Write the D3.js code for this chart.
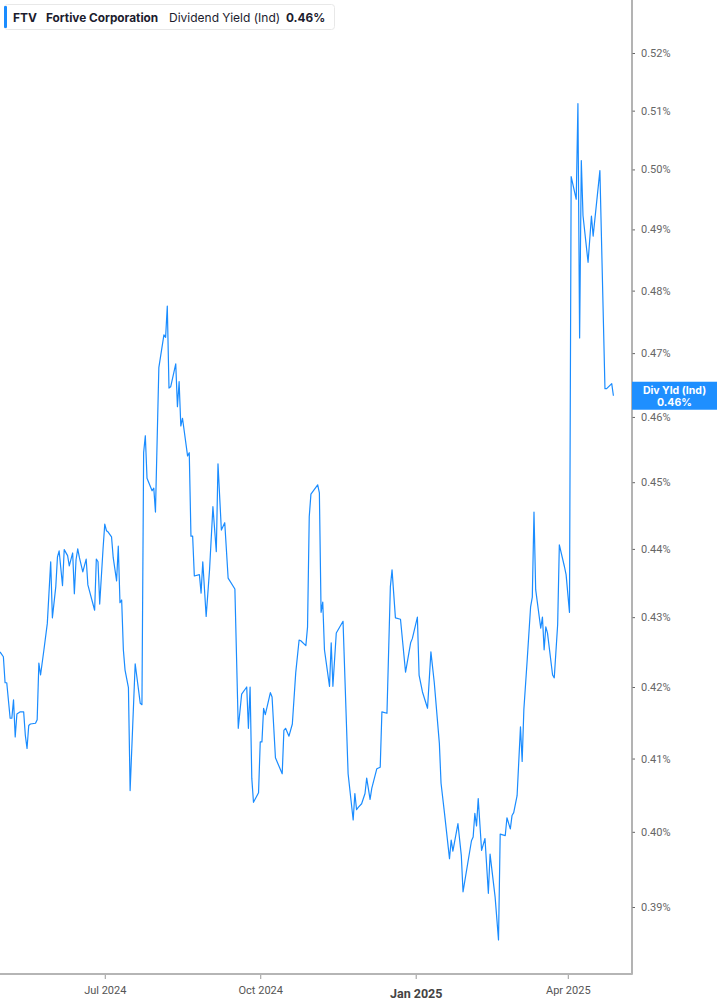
<!DOCTYPE html>
<html>
<head>
<meta charset="utf-8">
<title>FTV Dividend Yield</title>
<style>
  body { margin: 0; background: #fff; }
  svg { display: block; }
  .y-axis text { font-family: Roboto, "Noto Sans", sans-serif; font-size: 11px; fill: #666; }
  .x-axis text { font-family: Roboto, "Noto Sans", sans-serif; font-size: 11px; fill: #555; }
</style>
</head>
<body>
<div id="chart"></div>
<script src="https://cdn.jsdelivr.net/npm/d3@7"></script>
<script>
// dividend yield (ind), percent
const dates = [
  "2024-04-30","2024-05-02","2024-05-03","2024-05-04","2024-05-06","2024-05-07","2024-05-08","2024-05-09",
  "2024-05-10","2024-05-12","2024-05-14","2024-05-15","2024-05-16","2024-05-17","2024-05-18","2024-05-21",
  "2024-05-22","2024-05-23","2024-05-24","2024-05-26","2024-05-28","2024-05-30","2024-05-31","2024-06-02",
  "2024-06-03","2024-06-04","2024-06-06","2024-06-07","2024-06-09","2024-06-10","2024-06-12","2024-06-13",
  "2024-06-14","2024-06-15","2024-06-16","2024-06-18","2024-06-20","2024-06-21","2024-06-25","2024-06-26",
  "2024-06-27","2024-06-28","2024-06-30","2024-07-01","2024-07-02","2024-07-03","2024-07-05","2024-07-06",
  "2024-07-08","2024-07-09","2024-07-10","2024-07-11","2024-07-12","2024-07-13","2024-07-15","2024-07-16",
  "2024-07-19","2024-07-22","2024-07-23","2024-07-24","2024-07-25","2024-07-26","2024-07-29","2024-07-30",
  "2024-07-31","2024-08-02","2024-08-05","2024-08-06","2024-08-07","2024-08-08","2024-08-09","2024-08-12",
  "2024-08-13","2024-08-14","2024-08-15","2024-08-16","2024-08-19","2024-08-20","2024-08-21","2024-08-22",
  "2024-08-23","2024-08-26","2024-08-27","2024-08-28","2024-08-30","2024-09-01","2024-09-03","2024-09-05",
  "2024-09-06","2024-09-08","2024-09-10","2024-09-12","2024-09-16","2024-09-18","2024-09-20","2024-09-23",
  "2024-09-24","2024-09-25","2024-09-26","2024-09-27","2024-09-30","2024-10-01","2024-10-02","2024-10-03",
  "2024-10-04","2024-10-07","2024-10-08","2024-10-10","2024-10-14","2024-10-15","2024-10-16","2024-10-18",
  "2024-10-20","2024-10-22","2024-10-24","2024-10-25","2024-10-28","2024-10-29","2024-10-30","2024-10-31",
  "2024-11-04","2024-11-05","2024-11-06","2024-11-07","2024-11-08","2024-11-11","2024-11-12","2024-11-13",
  "2024-11-15","2024-11-19","2024-11-22","2024-11-25","2024-11-26","2024-11-27","2024-11-28","2024-11-30",
  "2024-12-02","2024-12-03","2024-12-05","2024-12-06","2024-12-09","2024-12-11","2024-12-12","2024-12-15",
  "2024-12-17","2024-12-18","2024-12-20","2024-12-23","2024-12-26","2024-12-29","2024-12-30","2025-01-02",
  "2025-01-03","2025-01-05","2025-01-08","2025-01-10","2025-01-12","2025-01-15","2025-01-16","2025-01-18",
  "2025-01-21","2025-01-22","2025-01-23","2025-01-26","2025-01-28","2025-01-29","2025-02-03","2025-02-04",
  "2025-02-05","2025-02-06","2025-02-07","2025-02-09","2025-02-11","2025-02-13","2025-02-14","2025-02-17",
  "2025-02-19","2025-02-20","2025-02-23","2025-02-24","2025-02-26","2025-02-27","2025-02-28","2025-03-02",
  "2025-03-04","2025-03-05","2025-03-06","2025-03-08","2025-03-10","2025-03-11","2025-03-12","2025-03-13",
  "2025-03-16","2025-03-17","2025-03-18","2025-03-19","2025-03-20","2025-03-23","2025-03-24","2025-03-26",
  "2025-03-27","2025-03-30","2025-03-31","2025-04-02","2025-04-03","2025-04-06","2025-04-07","2025-04-08",
  "2025-04-09","2025-04-10","2025-04-13","2025-04-15","2025-04-16","2025-04-20","2025-04-23","2025-04-24",
  "2025-04-27","2025-04-28"
];
const yields = [
  0.4250,0.4243,0.4206,0.4206,0.4156,0.4156,0.4182,0.4130,
  0.4162,0.4165,0.4165,0.4132,0.4114,0.4146,0.4148,0.4149,
  0.4154,0.4234,0.4217,0.4253,0.4291,0.4381,0.4299,0.4344,
  0.4388,0.4397,0.4346,0.4399,0.4390,0.4375,0.4394,0.4334,
  0.4384,0.4400,0.4387,0.4366,0.4385,0.4347,0.4310,0.4385,
  0.4381,0.4319,0.4401,0.4437,0.4427,0.4425,0.4418,0.4387,
  0.4353,0.4404,0.4321,0.4325,0.4253,0.4224,0.4199,0.4056,
  0.4233,0.4177,0.4175,0.4545,0.4571,0.4506,0.4487,0.4491,
  0.4455,0.4677,0.4729,0.4725,0.4775,0.4645,0.4647,0.4683,
  0.4616,0.4655,0.4586,0.4598,0.4540,0.4545,0.4419,0.4419,
  0.4360,0.4362,0.4335,0.4381,0.4301,0.4369,0.4463,0.4396,
  0.4528,0.4428,0.4439,0.4357,0.4341,0.4142,0.4190,0.4200,
  0.4142,0.4200,0.4073,0.4040,0.4053,0.4123,0.4123,0.4170,
  0.4161,0.4192,0.4186,0.4101,0.4079,0.4139,0.4142,0.4131,
  0.4148,0.4220,0.4267,0.4266,0.4259,0.4286,0.4448,0.4482,
  0.4496,0.4484,0.4307,0.4322,0.4253,0.4201,0.4263,0.4201,
  0.4277,0.4294,0.4079,0.4016,0.4052,0.4030,0.4033,0.4038,
  0.4052,0.4073,0.4044,0.4059,0.4086,0.4088,0.4165,0.4163,
  0.4344,0.4369,0.4299,0.4297,0.4221,0.4263,0.4269,0.4300,
  0.4217,0.4193,0.4170,0.4250,0.4206,0.4121,0.4066,0.4026,
  0.3964,0.3989,0.3974,0.4011,0.3968,0.3920,0.3988,0.3993,
  0.4025,0.4008,0.4045,0.3975,0.3991,0.3918,0.3970,0.3913,
  0.3857,0.3997,0.3995,0.4019,0.4004,0.4022,0.4026,0.4049,
  0.4144,0.4096,0.4168,0.4239,0.4315,0.4329,0.4455,0.4340,
  0.4284,0.4300,0.4253,0.4286,0.4277,0.4217,0.4213,0.4289,
  0.4406,0.4374,0.4362,0.4307,0.4988,0.4950,0.5112,0.4724,
  0.5015,0.4923,0.4846,0.4922,0.4889,0.4998,0.4644,0.4644,
  0.4652,0.4633
];
const yTicks = [0.39,0.40,0.41,0.42,0.43,0.44,0.45,0.46,0.47,0.48,0.49,0.50,0.51,0.52];
const xTicks = ["2024-07-01","2024-10-01","2025-01-01","2025-04-01"];
const xDomain = ["2024-04-30","2025-05-09"];
const yDomain = [0.39, 0.52];

const W = 717, H = 1005;
const plotRight = 632, plotBottom = 974;
const parse = d3.timeParse("%Y-%m-%d");
const data = dates.map((d, i) => ({ date: parse(d), v: yields[i] }));

const svg = d3.select("#chart").append("svg")
  .attr("width", W)
  .attr("height", H);

const x = d3.scaleTime().domain(xDomain.map(parse)).range([0, plotRight]);
const y = d3.scaleLog().domain(yDomain).range([907, 53]);

// the line
const line = d3.line().x(d => x(d.date)).y(d => y(d.v));
svg.append("path")
  .datum(data)
  .attr("fill", "none")
  .attr("stroke", "#1a8cff")
  .attr("stroke-width", 1.2)
  .attr("stroke-linejoin", "round")
  .attr("d", line);

// right axis
const yAxis = svg.append("g")
  .attr("class", "y-axis")
  .attr("transform", `translate(${plotRight},0)`)
  .call(d3.axisRight(y).tickValues(yTicks).tickSize(3).tickPadding(6)
    .tickFormat(d => d3.format(".2f")(d) + "%"));
yAxis.select(".domain").remove();
yAxis.selectAll(".tick line").attr("stroke", "#666");

svg.append("line")
  .attr("x1", plotRight).attr("x2", plotRight)
  .attr("y1", 0).attr("y2", plotBottom)
  .attr("stroke", "#9a9a9a").attr("stroke-width", 1.5);

// bottom axis
const xAxis = svg.append("g")
  .attr("class", "x-axis")
  .attr("transform", `translate(0,${plotBottom})`)
  .call(d3.axisBottom(x).tickValues(xTicks.map(parse)).tickSize(5).tickPadding(7)
    .tickFormat(d => d3.timeFormat("%b %Y")(d)));
xAxis.select(".domain").remove();
xAxis.selectAll(".tick line").attr("stroke", "#999");
xAxis.selectAll(".tick text")
  .filter(d => d.getMonth() === 0)
  .style("font-weight", "bold")
  .style("font-size", "12.5px")
  .style("fill", "#444")
  .attr("dy", "0.95em");

svg.append("line")
  .attr("x1", 0).attr("x2", plotRight + 0.75)
  .attr("y1", plotBottom).attr("y2", plotBottom)
  .attr("stroke", "#b5b5b5").attr("stroke-width", 2);

// last value label
const last = data[data.length - 1];
const lab = svg.append("g").attr("transform", `translate(${plotRight},${y(last.v)})`);
lab.append("rect")
  .attr("x", 0).attr("y", -14).attr("width", W - plotRight).attr("height", 28)
  .attr("fill", "#1e8fff");
lab.append("text")
  .attr("x", (W - plotRight) / 2).attr("y", -2)
  .attr("text-anchor", "middle")
  .style("font-family", "Inter, Roboto, sans-serif").style("font-size", "10.5px")
  .style("font-weight", "bold").style("fill", "#fff")
  .text("Div Yld (Ind)");
lab.append("text")
  .attr("x", (W - plotRight) / 2).attr("y", 10)
  .attr("text-anchor", "middle")
  .style("font-family", "Inter, Roboto, sans-serif").style("font-size", "10.5px")
  .style("font-weight", "bold").style("fill", "#fff")
  .text(d3.format(".2f")(last.v) + "%");

// header legend
const head = svg.append("g");
head.append("rect")
  .attr("x", 4.5).attr("y", 4.5).attr("width", 330).attr("height", 25).attr("rx", 3)
  .attr("fill", "#fff").attr("stroke", "#e8e8e8");
head.append("rect")
  .attr("x", 4).attr("y", 6).attr("width", 3).attr("height", 22).attr("rx", 1)
  .attr("fill", "#1a8cff");
const headText = [
  { t: "FTV", x: 13, w: "bold", s: 12 },
  { t: "Fortive Corporation", x: 46, w: "bold", s: 11.8 },
  { t: "Dividend Yield (Ind)", x: 169, w: "normal", s: 12 },
  { t: "0.46%", x: 286, w: "bold", s: 11.8 }
];
head.selectAll("text.h")
  .data(headText)
  .join("text")
  .attr("class", "h")
  .attr("x", d => d.x).attr("y", 21.5)
  .style("font-family", "Inter, Roboto, sans-serif")
  .style("font-size", d => d.s + "px")
  .style("font-weight", d => d.w)
  .style("fill", "#1c1c2e")
  .text(d => d.t);
</script>
</body>
</html>
